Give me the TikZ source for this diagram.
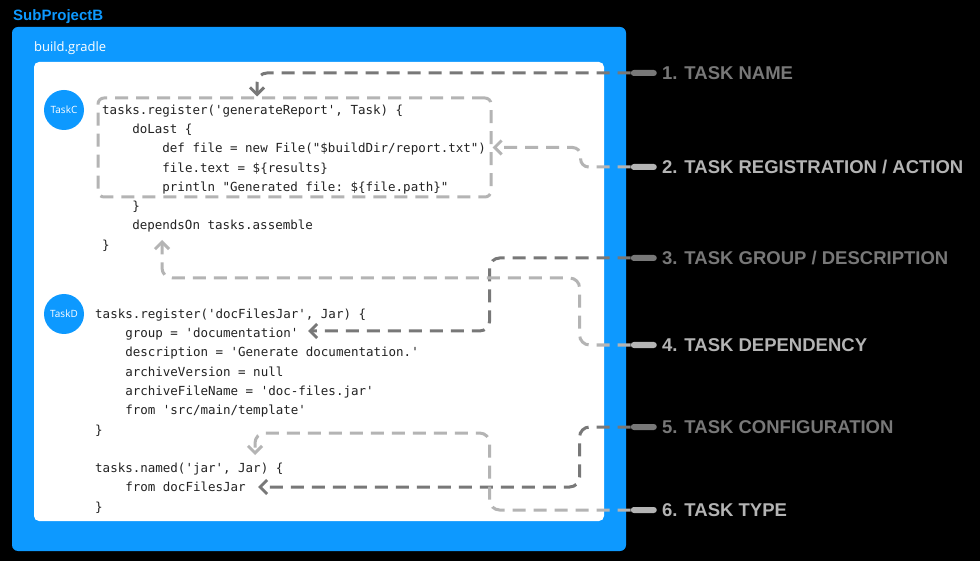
\documentclass[tikz,border=0pt]{standalone}
\usepackage{fontspec}
\setmainfont{Open Sans}
\setmonofont{DejaVu Sans Mono}
\newfontfamily\calloutfont{Liberation Sans}
\usetikzlibrary{positioning, arrows.meta}
\definecolor{figblue}{RGB}{13, 153, 255}
\definecolor{guidedark}{RGB}{120, 120, 120}
\definecolor{guidelight}{RGB}{180, 180, 180}
\definecolor{codeink}{RGB}{34, 34, 34}
\newcommand{\codetab}{\hspace*{30.12pt}}
\tikzset{
  panel/.style={
    fill=figblue,
    rounded corners=6pt
  },
  sheet/.style={
    fill=white,
    rounded corners=5pt
  },
  taskdot/.style={
    circle,
    fill=figblue,
    minimum size=40pt,
    inner sep=0pt,
    text=white,
    font=\fontsize{10}{12}\selectfont
  },
  codeblock/.style={
    anchor=north west,
    inner sep=0pt,
    align=left,
    text=codeink,
    font=\ttfamily\fontsize{12.5}{19.3}\selectfont
  },
  regframe/.style={
    draw=guidelight,
    line width=3pt,
    dash pattern=on 13pt off 8pt,
    rounded corners=6pt,
    minimum width=393pt,
    minimum height=99pt,
    inner sep=0pt
  },
  callout/.style={
    anchor=west,
    inner sep=0pt,
    font=\calloutfont\bfseries\fontsize{18.5}{20}\selectfont
  },
  calloutpin/.style={
    rectangle,
    rounded corners=3pt,
    minimum width=26pt,
    minimum height=6pt,
    inner sep=0pt
  },
  guide/.style={
    ->,
    >={Straight Barb[length=7pt, width=14pt]},
    line width=3pt,
    dash pattern=on 13pt off 8pt,
    rounded corners=10pt
  }
}

\begin{document}
\begin{tikzpicture}[x=1pt, y=-1pt]
  \fill[black] (0,0) rectangle (980,561);
  \useasboundingbox (0,0) rectangle (980,561);

  \node[anchor=west, inner sep=0pt, text=figblue,
        font=\calloutfont\bfseries\fontsize{15}{17}\selectfont] (project) at (13,17) {SubProjectB};
  \fill[panel] (12,27) rectangle (626,551);
  \node[anchor=west, inner sep=0pt, text=white,
        font=\fontsize{13}{15}\selectfont] (gradlefile) at (34,48) {build.gradle};
  \fill[sheet] (34,62) rectangle (604,521);

  \node[taskdot] (taskC) at (64,110) {TaskC};
  \node[taskdot] (taskD) at (64,314) {TaskD};

  \node[regframe] (regbox) at (294.5,147.5) {};

  \node[codeblock] (codeC) at (102,104.5) {%
    tasks.register('generateReport', Task) \{\\
    \codetab doLast \{\\
    \codetab\codetab def file = new File("\$buildDir/report.txt")\\
    \codetab\codetab file.text = \$\{results\}\\
    \codetab\codetab println "Generated file: \$\{file.path\}"\\
    \codetab \}\\
    \codetab dependsOn tasks.assemble\\
    \}};
  \node[codeblock] (codeD) at (95,308.5) {%
    tasks.register('docFilesJar', Jar) \{\\
    \codetab group = 'documentation'\\
    \codetab description = 'Generate documentation.'\\
    \codetab archiveVersion = null\\
    \codetab archiveFileName = 'doc-files.jar'\\
    \codetab from 'src/main/template'\\
    \}\\[19.3pt]
    tasks.named('jar', Jar) \{\\
    \codetab from docFilesJar\\
    \}};

  % arrow ends
  \coordinate (grpend) at (308,331);
  \coordinate (depend) at (162,240);
  \coordinate (cfgend) at (258,487);
  \coordinate (typend) at (255,455);

  % callouts
  \node[callout, text=guidedark] (name) at (662,73) {1. TASK NAME};
  \node[callout, text=guidelight] (reg) at (662,167) {2. TASK REGISTRATION / ACTION};
  \node[callout, text=guidedark] (grp) at (662,258) {3. TASK GROUP / DESCRIPTION};
  \node[callout, text=guidelight] (dep) at (662,345) {4. TASK DEPENDENCY};
  \node[callout, text=guidedark] (cfg) at (662,427) {5. TASK CONFIGURATION};
  \node[callout, text=guidelight] (typ) at (662,510) {6. TASK TYPE};

  \node[calloutpin, fill=guidedark, left=5pt of name] (namepin) {};
  \node[calloutpin, fill=guidelight, left=5pt of reg] (regpin) {};
  \node[calloutpin, fill=guidedark, left=5pt of grp] (grppin) {};
  \node[calloutpin, fill=guidelight, left=5pt of dep] (deppin) {};
  \node[calloutpin, fill=guidedark, left=5pt of cfg] (cfgpin) {};
  \node[calloutpin, fill=guidelight, left=5pt of typ] (typpin) {};

  \draw[guide, guidedark] (namepin.west) -| ([xshift=-37.5pt]regbox.north);
  \draw[guide, guidelight, rounded corners=8pt] (regpin.west) -- ++(-50,0) |- (regbox.east);
  \draw[guide, guidedark] (grppin.west) -- ++(-141,0) |- (grpend);
  \draw[guide, guidelight] (deppin.west) -- ++(-51,0) -- ++(0,-67) -| (depend);
  \draw[guide, guidedark] (cfgpin.west) -- ++(-51,0) |- (cfgend);
  \draw[guide, guidelight] (typpin.west) -- ++(-141,0) -- ++(0,-77) -| (typend);
\end{tikzpicture}
\end{document}
